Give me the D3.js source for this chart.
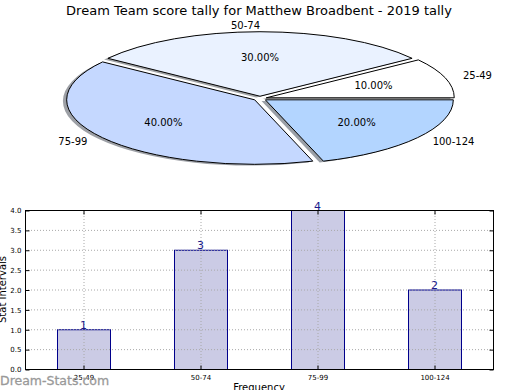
<!DOCTYPE html>
<html><head><meta charset="utf-8">
<script src="https://cdn.jsdelivr.net/npm/d3@7"></script>
<style>
body{margin:0;background:#fff;}
svg{display:block;font-family:"DejaVu Sans",sans-serif;}
</style></head>
<body><svg id="c" width="520" height="390"></svg>
<script>
const title = "Dream Team score tally for Matthew Broadbent - 2019 tally";
const categories = ["25-49","50-74","75-99","100-124"];
const counts = [1,3,4,2];
const pieColors = ["#ffffff","#eaf2ff","#c5d8ff","#b3d5ff"];
const yTicks = [0,0.5,1,1.5,2,2.5,3,3.5,4];
const xLabel = "Frequency";
const yLabel = "Stat Intervals";
const watermark = "Dream-Stats.com";

const svg = d3.select("#c");
svg.append("rect").attr("width",520).attr("height",390).attr("fill","#fff");

svg.append("text").attr("x",259).attr("y",15).attr("text-anchor","middle")
  .attr("font-size",13).attr("fill","#000").text(title);

// ---- Pie (elliptical, exploded, shadowed) ----
const cx = 260, cy = 98.5, rx = 188, ry = 64.5, ex = 0.035;
const total = d3.sum(counts);
const pie = d3.pie().sort(null).value(d=>d).startAngle(Math.PI/2).endAngle(Math.PI/2 - 2*Math.PI);
const arcs = pie(counts);
const arcGen = d3.arc().innerRadius(0).outerRadius(1);
const pg = svg.append("g");
function midTheta(a){ return Math.PI/2 - (a.startAngle + a.endAngle)/2; }
const shadowG = pg.append("g");
const wedgeG = pg.append("g");
arcs.forEach((a,i)=>{
  const t = midTheta(a);
  const ox = cx + ex*rx*Math.cos(t), oy = cy - ex*ry*Math.sin(t);
  const c = d3.rgb(pieColors[i]);
  shadowG.append("path").attr("d",arcGen(a))
    .attr("transform",`translate(${ox-0.02*rx},${oy+0.02*ry}) scale(${rx},${ry})`)
    .attr("fill",d3.rgb(c.r*0.3,c.g*0.3,c.b*0.3)).attr("fill-opacity",0.5)
    .attr("stroke","none");
  wedgeG.append("path").attr("d",arcGen(a))
    .attr("transform",`translate(${ox},${oy}) scale(${rx},${ry})`)
    .attr("fill",pieColors[i]).attr("stroke","#000").attr("stroke-width",1)
    .attr("vector-effect","non-scaling-stroke");
  pg.append("text").attr("x",ox+0.6*rx*Math.cos(t)).attr("y",oy-0.6*ry*Math.sin(t))
    .attr("text-anchor","middle").attr("dominant-baseline","central")
    .attr("font-size",10).attr("fill","#000")
    .text((counts[i]/total*100).toFixed(2)+"%");
  const lx = ox+1.1*rx*Math.cos(t), ly = oy-1.1*ry*Math.sin(t);
  pg.append("text").attr("x",lx).attr("y",ly)
    .attr("text-anchor", Math.cos(t) > 1e-6 ? "start" : "end")
    .attr("dominant-baseline","central")
    .attr("font-size",10).attr("fill","#000").text(categories[i]);
});

// ---- Bar chart ----
const L = 25, R = 493, T = 210, B = 369;
const x = d3.scaleBand().domain(categories).range([L,R]).paddingInner(0.547).paddingOuter(0.2735);
const y = d3.scaleLinear().domain([0,4]).range([B,T]);
const bg = svg.append("g");
bg.selectAll(".bar").data(counts).join("rect")
  .attr("x",(d,i)=>x(categories[i])+0.5).attr("width",x.bandwidth())
  .attr("y",d=>y(d)+0.5).attr("height",d=>B-y(d))
  .attr("fill","#cbcbe5").attr("stroke","#00008b").attr("stroke-width",1);
// grid (drawn over bars)
bg.selectAll(".hg").data(yTicks.slice(1,-1)).join("line")
  .attr("x1",L).attr("x2",R).attr("y1",d=>y(d)+0.5).attr("y2",d=>y(d)+0.5)
  .attr("stroke","#a8a8a8").attr("stroke-width",1).attr("stroke-dasharray","1,2");
bg.selectAll(".vg").data(categories).join("line")
  .attr("x1",d=>x(d)+x.bandwidth()/2+0.5).attr("x2",d=>x(d)+x.bandwidth()/2+0.5)
  .attr("y1",T).attr("y2",B)
  .attr("stroke","#a8a8a8").attr("stroke-width",1).attr("stroke-dasharray","1,2");
bg.selectAll(".vl").data(counts).join("text")
  .attr("x",(d,i)=>x(categories[i])+x.bandwidth()/2).attr("y",d=>y(d)-0.5)
  .attr("text-anchor","middle").attr("font-size",11).attr("fill","#1a1a8c").text(d=>d);
bg.append("rect").attr("x",L+0.5).attr("y",T+0.5).attr("width",R-L).attr("height",B-T)
  .attr("fill","none").attr("stroke","#000").attr("stroke-width",1);
const yAxisL = d3.axisLeft(y).tickValues(yTicks).tickFormat(d3.format(".1f")).tickSizeInner(-4).tickSizeOuter(0).tickPadding(4);
const gy = bg.append("g").attr("transform",`translate(${L+0.5},0.5)`).call(yAxisL);
gy.select(".domain").remove();
gy.selectAll("text").attr("font-size",7).attr("font-family","DejaVu Sans").attr("fill","#000");
const yAxisR = d3.axisRight(y).tickValues(yTicks).tickSizeInner(-4).tickSizeOuter(0).tickFormat("");
const gyr = bg.append("g").attr("transform",`translate(${R+0.5},0.5)`).call(yAxisR);
gyr.select(".domain").remove();
const xAxis = d3.axisBottom(x).tickSizeInner(-4).tickSizeOuter(0).tickPadding(6);
const gx = bg.append("g").attr("transform",`translate(0.5,${B+0.5})`).call(xAxis);
gx.select(".domain").remove();
gx.selectAll("text").attr("font-size",7).attr("font-family","DejaVu Sans").attr("fill","#000");
const xAxisT = d3.axisTop(x).tickSizeInner(-4).tickSizeOuter(0).tickFormat("");
const gxt = bg.append("g").attr("transform",`translate(0.5,${T+0.5})`).call(xAxisT);
gxt.select(".domain").remove();
svg.append("text").attr("x",(L+R)/2).attr("y",384).attr("dominant-baseline","hanging")
  .attr("text-anchor","middle").attr("font-size",10).attr("fill","#000").text(xLabel);
svg.append("text").attr("transform",`translate(6,${(T+B)/2}) rotate(-90)`)
  .attr("text-anchor","middle").attr("font-size",10).attr("fill","#000").text(yLabel);
svg.append("text").attr("x",0).attr("y",385).attr("font-size",12.5)
  .attr("fill","#999").attr("stroke","#999").attr("stroke-width",0.3).text(watermark);
</script></body></html>
